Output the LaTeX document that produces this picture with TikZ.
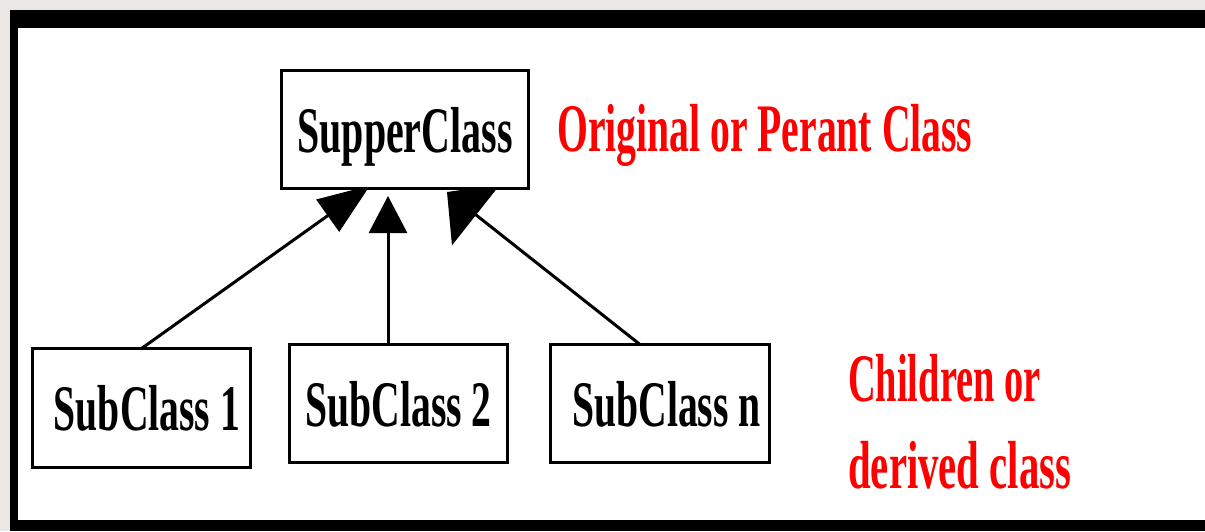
\documentclass[tikz,border=0pt]{standalone}
\usepackage{fontspec}
\setmainfont{Liberation Serif}
\usepackage{graphicx}
\usetikzlibrary{arrows.meta}
\definecolor{pagegray}{RGB}{235,231,228}
\pgfdeclarelayer{frame}
\pgfdeclarelayer{links}
\pgfsetlayers{frame,links,main}
% condensed text: horizontal squeeze only
\newcommand{\narrow}[2]{\scalebox{#1}[1]{#2}}
\begin{document}
\begin{tikzpicture}[x=1pt,y=-1pt,
  classbox/.style={draw, line width=3pt, fill=white, inner sep=0pt, outer sep=0pt,
    minimum height=118pt, font=\bfseries\fontsize{65}{78}\selectfont, text depth=0pt},
  link/.style={line width=3pt},
  note/.style={text=red, font=\bfseries\fontsize{68}{87}\selectfont, inner sep=0pt, anchor=base west}]
\useasboundingbox (0,0) rectangle (1205,531);

% page, black frame and white panel
\begin{pgfonlayer}{frame}
  \fill[pagegray] (0,0) rectangle (1205,531);
  \fill[black] (10,10) rectangle (1205,531);
  \fill[white] (18,28) rectangle (1205,520);
\end{pgfonlayer}

% classes
\node[classbox, minimum width=247pt] (super) at (405,129.5) {\narrow{0.614}{SupperClass}};
\node[classbox, minimum width=218pt, minimum height=119pt] (sub1) at (141.5,408) {\hspace*{11pt}\narrow{0.61}{SubClass 1}};
\node[classbox, minimum width=218pt] (sub2) at (398.5,403.5) {\narrow{0.61}{SubClass 2}};
\node[classbox, minimum width=219pt] (subn) at (660,403.5) {\hspace*{13pt}\narrow{0.61}{SubClass n}};

% inheritance links (drawn below the class boxes)
\begin{pgfonlayer}{links}
  \draw[link, -{Triangle[length=52pt,width=39pt]}]
    (sub1.north) -- ([shift={(88.5,-3)}]super.south west);
  \draw[link, -{Triangle[length=37pt,width=38pt]}]
    ([xshift=-10.5pt]sub2.north) -- ([shift={(106.5,7.5)}]super.south west);
  \draw[link, -{Triangle[length=37pt,width=77pt]}]
    ([xshift=-20pt]subn.north) -- ([shift={(165.5,3.5)}]super.south west);
\end{pgfonlayer}

% captions
\node[note] (parentnote) at (557,151) {\narrow{0.583}{Original or Perant Class}};
\node[note] (childnote) at (848,401) {\begin{tabular}[t]{@{}l@{}}\narrow{0.565}{Children or}\\ \narrow{0.6}{derived class}\end{tabular}};
\end{tikzpicture}
\end{document}
